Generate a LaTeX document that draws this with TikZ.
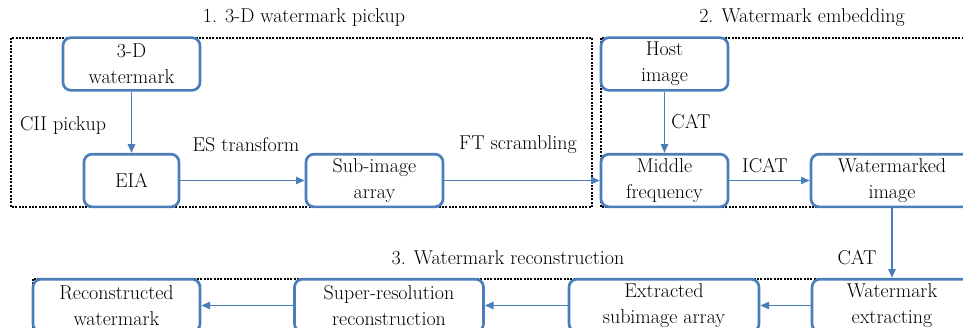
\documentclass[tikz,border=0pt]{standalone}
\usepackage{xcolor}
\usepackage{tikz}
\usetikzlibrary{arrows.meta}

\definecolor{boxblue}{RGB}{74,126,187}

\begin{document}
\begin{tikzpicture}[
    x=0.75pt, y=-0.75pt,
    stage/.style={draw=boxblue, line width=2pt, rounded corners=6pt,
      align=center, inner sep=0pt, minimum height=39.5pt},
    flow/.style={draw=boxblue, line width=1.2pt, -{Triangle[length=6.5pt,width=5.5pt]}},
    frame/.style={draw, densely dotted, line width=1.5pt},
    tlabel/.style={inner sep=1pt},
    font=\fontsize{15}{19.5}\selectfont,
  ]
  \useasboundingbox (0,0) rectangle (963,328);
  \clip (0,0) rectangle (963,328);

  % dotted stage frames
  \draw[frame] (11,38) rectangle (592,207);
  \draw[frame] (601,38) rectangle (1000,207);
  \draw[frame] (33,279) rectangle (1000,340);

  % stage titles
  \node[tlabel] (t1) at (304,18) {1. 3-D watermark pickup};
  \node[tlabel] (t2) at (802,18) {2. Watermark embedding};
  \node[tlabel] (t3) at (508,258) {3. Watermark reconstruction};

  % step boxes
  \node[stage, minimum width=102.75pt] (wm3d) at (131.5,64) {3-D\\watermark};
  \node[stage, minimum width=71.25pt] (eia) at (131.5,180.5) {EIA};
  \node[stage, minimum width=102.75pt] (subimg) at (374.5,180.5) {Sub-image\\array};
  \node[stage, minimum width=95.25pt] (host) at (664.5,64) {Host\\image};
  \node[stage, minimum width=95.25pt] (midfreq) at (664.5,180.5) {Middle\\frequency};
  \node[stage, minimum width=121.5pt] (wmimg) at (892,180.5) {Watermarked\\image};
  \node[stage, minimum width=120pt] (extract) at (892,305.5) {Watermark\\extracting};
  \node[stage, minimum width=142.5pt] (extsub) at (664,305.5) {Extracted\\subimage array};
  \node[stage, minimum width=141.75pt] (superres) at (389,305.5) {Super-resolution\\reconstruction};
  \node[stage, minimum width=125.25pt] (recon) at (116.5,305.5) {Reconstructed\\watermark};

  % connectors
  \draw[flow] (wm3d) -- (eia);
  \draw[flow] (eia) -- (subimg);
  \draw[flow] (subimg) -- (midfreq);
  \draw[flow] (host) -- (midfreq);
  \draw[flow] (midfreq) -- (wmimg);
  \draw[flow] (wmimg) -- (extract);
  \draw[flow] (extract) -- (extsub);
  \draw[flow] (extsub) -- (superres);
  \draw[flow] (superres) -- (recon);

  % transform labels
  \node[tlabel] (lcii) at (63,125) {CII pickup};
  \node[tlabel] (les) at (246,145) {ES transform};
  \node[tlabel] (lft) at (518,145) {FT scrambling};
  \node[tlabel] (lcat) at (691,122) {CAT};
  \node[tlabel] (licat) at (765,166) {ICAT};
  \node[tlabel] (lcat2) at (857,258) {CAT};
\end{tikzpicture}
\end{document}
